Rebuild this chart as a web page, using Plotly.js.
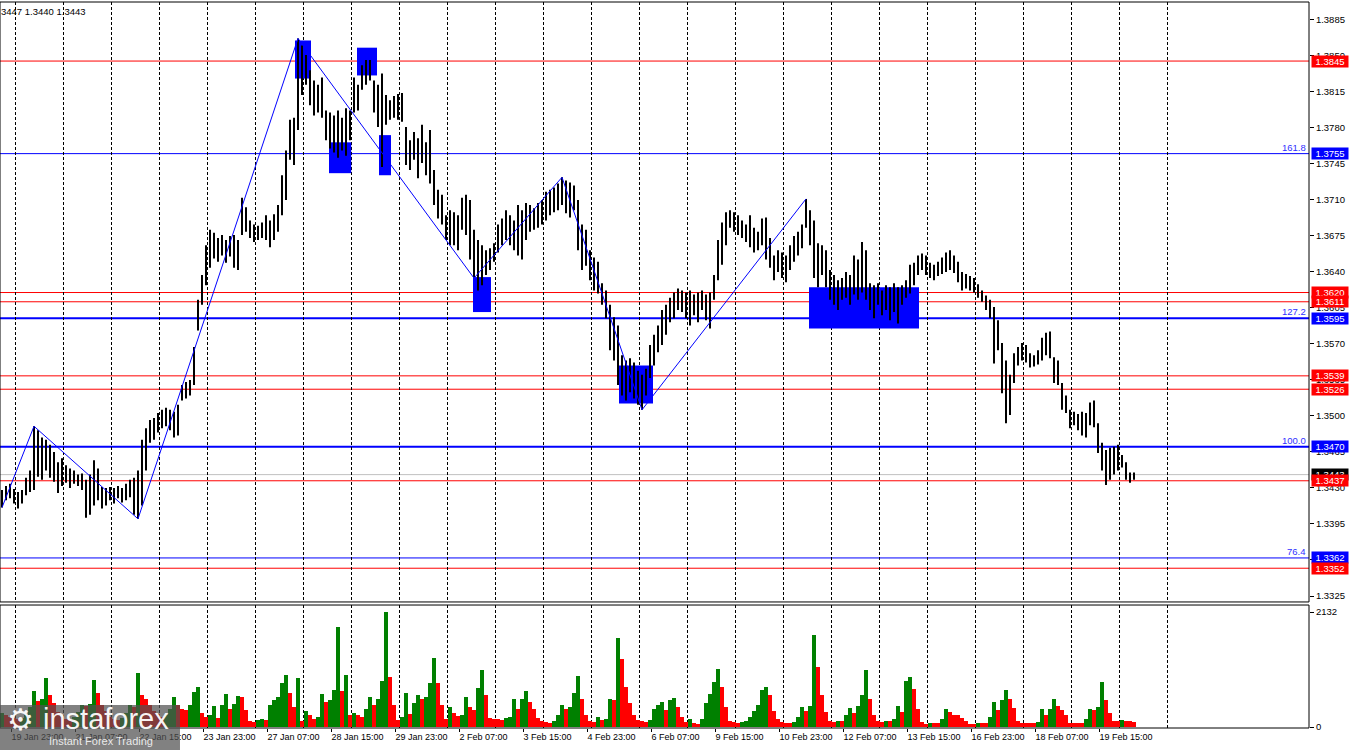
<!DOCTYPE html>
<html><head><meta charset="utf-8">
<script src="https://cdn.plot.ly/plotly-3.0.1.min.js"></script>
<style>html,body{margin:0;padding:0;background:#fff;overflow:hidden}#chart{width:1350px;height:750px}</style>
</head><body><div id="chart"></div>
<script>
// ---- price bars (2-hour columns, index 0 = left edge) ----
const barHigh = [1.3428,1.3432,1.3434,1.3429,1.3426,1.3428,1.3440,1.3447,1.3490,1.3486,
1.3479,1.3477,1.3472,1.3465,1.3455,1.3459,1.3452,1.3449,1.3447,1.3443,
1.3444,1.3438,1.3443,1.3457,1.3449,1.3431,1.3430,1.3431,1.3430,1.3432,
1.3430,1.3434,1.3438,1.3440,1.3447,1.3477,1.3488,1.3496,1.3498,1.3503,
1.3506,1.3508,1.3506,1.3504,1.3511,1.3530,1.3533,1.3535,1.3567,1.3613,
1.3637,1.3666,1.3681,1.3678,1.3673,1.3676,1.3671,1.3675,1.3676,1.3671,
1.3712,1.3703,1.3690,1.3686,1.3685,1.3688,1.3695,1.3690,1.3696,1.3705,
1.3734,1.3758,1.3788,1.3790,1.3867,1.3860,1.3851,1.3836,1.3826,1.3822,
1.3829,1.3797,1.3795,1.3792,1.3797,1.3790,1.3799,1.3797,1.3829,1.3822,
1.3841,1.3846,1.3846,1.3826,1.3822,1.3833,1.3812,1.3807,1.3811,1.3813,
1.3814,1.3781,1.3768,1.3776,1.3770,1.3783,1.3766,1.3778,1.3739,1.3720,
1.3715,1.3695,1.3700,1.3698,1.3695,1.3712,1.3715,1.3710,1.3681,1.3671,
1.3666,1.3661,1.3663,1.3668,1.3686,1.3692,1.3700,1.3695,1.3690,1.3705,
1.3700,1.3707,1.3705,1.3702,1.3707,1.3710,1.3718,1.3720,1.3722,1.3726,
1.3732,1.3729,1.3727,1.3724,1.3710,1.3686,1.3681,1.3661,1.3654,1.3650,
1.3629,1.3622,1.3608,1.3596,1.3588,1.3559,1.3554,1.3556,1.3552,1.3544,
1.3540,1.3546,1.3569,1.3579,1.3588,1.3603,1.3608,1.3615,1.3620,1.3624,
1.3622,1.3620,1.3622,1.3618,1.3620,1.3622,1.3618,1.3620,1.3637,1.3671,
1.3688,1.3698,1.3700,1.3698,1.3695,1.3690,1.3686,1.3695,1.3683,1.3679,
1.3692,1.3693,1.3673,1.3656,1.3661,1.3659,1.3656,1.3666,1.3675,1.3679,
1.3686,1.3711,1.3700,1.3690,1.3668,1.3666,1.3661,1.3642,1.3637,1.3632,
1.3634,1.3640,1.3637,1.3656,1.3652,1.3669,1.3661,1.3629,1.3627,1.3629,
1.3622,1.3627,1.3625,1.3629,1.3625,1.3627,1.3632,1.3647,1.3649,1.3656,
1.3658,1.3656,1.3649,1.3647,1.3650,1.3654,1.3659,1.3661,1.3656,1.3650,
1.3640,1.3638,1.3636,1.3634,1.3628,1.3622,1.3617,1.3613,1.3606,1.3593,
1.3571,1.3554,1.3540,1.3561,1.3567,1.3571,1.3569,1.3561,1.3559,1.3564,
1.3576,1.3581,1.3582,1.3557,1.3554,1.3532,1.3520,1.3506,1.3504,1.3502,
1.3504,1.3503,1.3513,1.3515,1.3493,1.3474,1.3467,1.3469,1.3470,1.3472,
1.3462,1.3455,1.3445,1.3445];
const barLow = [1.3411,1.3418,1.3420,1.3415,1.3410,1.3415,1.3423,1.3426,1.3428,1.3441,
1.3438,1.3447,1.3440,1.3436,1.3425,1.3432,1.3435,1.3430,1.3434,1.3432,
1.3428,1.3401,1.3404,1.3413,1.3418,1.3410,1.3413,1.3418,1.3415,1.3420,
1.3416,1.3418,1.3421,1.3404,1.3400,1.3413,1.3447,1.3474,1.3477,1.3484,
1.3488,1.3490,1.3486,1.3479,1.3481,1.3515,1.3517,1.3520,1.3530,1.3583,
1.3608,1.3627,1.3644,1.3653,1.3650,1.3656,1.3649,1.3655,1.3644,1.3642,
1.3676,1.3679,1.3673,1.3669,1.3671,1.3673,1.3671,1.3664,1.3671,1.3679,
1.3695,1.3710,1.3749,1.3744,1.3778,1.3812,1.3822,1.3802,1.3792,1.3795,
1.3790,1.3768,1.3760,1.3756,1.3751,1.3758,1.3753,1.3768,1.3795,1.3797,
1.3817,1.3822,1.3826,1.3795,1.3781,1.3742,1.3783,1.3788,1.3790,1.3788,
1.3786,1.3744,1.3739,1.3749,1.3731,1.3746,1.3734,1.3726,1.3705,1.3692,
1.3686,1.3671,1.3666,1.3666,1.3661,1.3681,1.3676,1.3652,1.3634,1.3622,
1.3627,1.3637,1.3642,1.3650,1.3659,1.3666,1.3671,1.3666,1.3661,1.3656,
1.3652,1.3671,1.3679,1.3681,1.3683,1.3686,1.3690,1.3695,1.3698,1.3700,
1.3705,1.3697,1.3693,1.3700,1.3661,1.3642,1.3646,1.3632,1.3622,1.3619,
1.3608,1.3595,1.3564,1.3554,1.3530,1.3520,1.3515,1.3523,1.3517,1.3511,
1.3506,1.3520,1.3537,1.3549,1.3562,1.3569,1.3579,1.3591,1.3595,1.3603,
1.3601,1.3595,1.3588,1.3598,1.3591,1.3603,1.3593,1.3585,1.3613,1.3632,
1.3647,1.3666,1.3683,1.3679,1.3676,1.3673,1.3669,1.3664,1.3659,1.3661,
1.3666,1.3652,1.3644,1.3632,1.3640,1.3634,1.3630,1.3642,1.3650,1.3656,
1.3663,1.3683,1.3666,1.3634,1.3625,1.3637,1.3625,1.3613,1.3608,1.3603,
1.3613,1.3615,1.3608,1.3618,1.3613,1.3620,1.3613,1.3603,1.3595,1.3608,
1.3598,1.3603,1.3593,1.3601,1.3590,1.3608,1.3615,1.3619,1.3627,1.3637,
1.3642,1.3637,1.3634,1.3632,1.3636,1.3638,1.3640,1.3642,1.3639,1.3630,
1.3622,1.3624,1.3622,1.3620,1.3615,1.3611,1.3603,1.3595,1.3551,1.3564,
1.3522,1.3493,1.3501,1.3532,1.3549,1.3554,1.3552,1.3547,1.3548,1.3550,
1.3554,1.3559,1.3556,1.3532,1.3530,1.3506,1.3503,1.3488,1.3491,1.3486,
1.3481,1.3479,1.3491,1.3489,1.3464,1.3447,1.3433,1.3438,1.3443,1.3447,
1.3450,1.3438,1.3435,1.3438];
const volume = [259,222,185,167,148,167,222,370,666,481,
518,907,592,444,278,185,148,130,185,278,
407,389,426,870,629,407,296,185,148,130,
167,259,407,370,999,592,518,407,296,241,
185,222,333,555,407,333,315,407,648,740,
259,185,222,389,167,407,611,333,426,574,
555,315,111,93,130,148,130,407,500,555,
814,962,629,370,907,111,296,222,148,185,
611,463,500,685,1850,666,962,222,259,222,
185,333,555,407,518,851,2132,925,407,130,
185,629,241,444,592,518,555,814,1277,814,
407,148,370,259,204,222,555,370,315,722,
1055,592,167,148,148,130,167,185,518,333,
518,666,463,333,167,111,93,74,111,222,
407,333,370,629,944,518,222,111,93,185,
130,148,518,500,1647,1258,740,444,222,130,
111,93,130,333,407,463,315,500,537,370,
185,93,148,74,56,148,444,611,833,1073,
740,370,111,93,74,93,111,185,296,407,
685,740,592,296,148,93,74,74,93,185,
370,296,389,1702,1110,592,278,111,93,111,
111,222,352,259,389,592,1055,518,222,111,
93,111,111,148,389,278,851,925,703,333,
93,56,74,74,74,148,333,278,222,222,
167,111,56,56,74,74,74,185,463,315,
500,685,518,352,111,74,74,74,74,93,
333,222,333,518,389,315,222,74,74,74,
74,148,333,315,370,833,500,259,111,111,
130,111,111,93];

// ---- time axis labels (every 16 columns = 32 hours) ----
const timeLabels = ['19 Jan 23:00','21 Jan 07:00','22 Jan 15:00','23 Jan 23:00','27 Jan 07:00','28 Jan 15:00',
'29 Jan 23:00','2 Feb 07:00','3 Feb 15:00','4 Feb 23:00','6 Feb 07:00','9 Feb 15:00','10 Feb 23:00',
'12 Feb 07:00','13 Feb 15:00','16 Feb 23:00','18 Feb 07:00','19 Feb 15:00'];
const firstLabelIndex = 2.25;
const labelStep = 16;

// ---- zigzag pivots ----
const zigzagIndex = [0, 8, 34, 74, 118, 140, 160, 201];
const zigzagPrice = [1.3411, 1.3490, 1.3400, 1.3867, 1.3634, 1.3732, 1.3506, 1.3711];

// ---- blue zones ----
const zoneStart = [73.25, 81.75, 88.75, 94.25, 117.75, 154.25, 201.75];
const zoneEnd   = [77.25, 87.3, 93.75, 97.25, 122.25, 162.75, 229.25];
const zoneTop   = [1.3865, 1.3766, 1.3858, 1.3773, 1.3635, 1.3549, 1.3625];
const zoneBottom= [1.3828, 1.3736, 1.3831, 1.3734, 1.3601, 1.3512, 1.3585];

// ---- levels ----
const redLevels = [1.3845, 1.3620, 1.3611, 1.3539, 1.3526, 1.3437, 1.3352];
const fibLevels = [1.3755, 1.3595, 1.3470, 1.3362];
const fibNames  = ['161.8', '127.2', '100.0', '76.4'];
const lastPrice = 1.3443;
const infoText = '3447 1.3440 1.3443';
const priceTickStart = 1.3325, priceTickStep = 0.0035, priceTickEnd = 1.3885;
const volumeMax = 2132;

// ================= drawing =================
const FONT = 'Liberation Sans, Arial, sans-serif';
const FS = 9.5;
const FSX = 9;
const xs = [], ys = [];
barHigh.forEach((h, i) => { xs.push(i, i, null); ys.push(barLow[i], h, null); });

const volIdx = volume.map((v, i) => i);
const volColors = volume.map((v, i) => (i === 0 || v > volume[i - 1]) ? '#008000' : '#ff0000');

const traces = [
  {type: 'scatter', mode: 'lines', x: xs, y: ys, xaxis: 'x', yaxis: 'y',
   line: {color: '#000', width: 2}, hoverinfo: 'skip'},
  {type: 'scatter', mode: 'lines', x: zigzagIndex, y: zigzagPrice, xaxis: 'x', yaxis: 'y',
   line: {color: '#0000ff', width: 1}, hoverinfo: 'skip'},
  {type: 'bar', x: volIdx, y: volume, xaxis: 'x', yaxis: 'y2', width: 0.9,
   marker: {color: volColors, line: {width: 0}}, hoverinfo: 'skip'}
];

const priceTicks = [];
for (let p = priceTickStart; p <= priceTickEnd + 1e-9; p += priceTickStep) priceTicks.push(+p.toFixed(4));
const tickIdx = timeLabels.map((t, k) => firstLabelIndex + labelStep * k);
const gridIdx = [];
for (let k = 0; k < 25; k++) gridIdx.push(3.33 + 12 * k);

const shapes = [];
zoneStart.forEach((s, i) => shapes.push({type: 'rect', xref: 'x', yref: 'y', x0: s, x1: zoneEnd[i],
  y0: zoneBottom[i], y1: zoneTop[i], fillcolor: '#0000ff', line: {width: 0}, layer: 'between'}));
redLevels.forEach(p => shapes.push({type: 'line', xref: 'paper', yref: 'y', x0: 0, x1: 1, y0: p, y1: p,
  line: {color: '#ff0000', width: 1}, layer: 'between'}));
fibLevels.forEach((p, i) => shapes.push({type: 'line', xref: 'paper', yref: 'y', x0: 0, x1: 1, y0: p, y1: p,
  line: {color: '#0000ff', width: (fibNames[i] === '127.2' || fibNames[i] === '100.0') ? 2 : 1}, layer: 'between'}));
shapes.push({type: 'line', xref: 'paper', yref: 'y', x0: 0, x1: 1, y0: lastPrice, y1: lastPrice,
  line: {color: '#c0c0c0', width: 1}, layer: 'between'});
shapes.push({type: 'rect', xref: 'paper', yref: 'y domain', x0: 0, x1: 1, y0: 0, y1: 1,
  line: {color: '#000', width: 1}, fillcolor: 'rgba(0,0,0,0)', layer: 'above'});
shapes.push({type: 'rect', xref: 'paper', yref: 'y2 domain', x0: 0, x1: 1, y0: 0, y1: 1,
  line: {color: '#000', width: 1}, fillcolor: 'rgba(0,0,0,0)', layer: 'above'});
// watermark box
shapes.push({type: 'rect', xref: 'paper', yref: 'paper', x0: 0, x1: 0.1375, y0: -0.031, y1: 0.0317,
  fillcolor: 'rgba(80,80,80,0.72)', line: {width: 0}, layer: 'above'});

const annotations = [];
const boxLabel = (p, bg) => ({xref: 'paper', x: 1, xanchor: 'left', xshift: 2, yref: 'y', y: p, yanchor: 'middle',
  text: p.toFixed(4), showarrow: false, bgcolor: bg, borderpad: 0, width: 36, height: 11,
  font: {family: FONT, size: FS, color: '#fff'}});
annotations.push(boxLabel(lastPrice, '#000'));
fibLevels.forEach(p => annotations.push(boxLabel(p, '#0000ff')));
redLevels.forEach(p => annotations.push(boxLabel(p, '#ff0000')));
fibLevels.forEach((p, i) => annotations.push({xref: 'paper', x: 1, xanchor: 'right', xshift: -2, yref: 'y', y: p,
  yanchor: 'bottom', text: fibNames[i], showarrow: false, borderpad: 0,
  font: {family: FONT, size: FS, color: '#3030ff'}}));
annotations.push({xref: 'paper', x: 0, xanchor: 'left', yref: 'paper', y: 1, yanchor: 'top', yshift: -3,
  text: infoText, showarrow: false, borderpad: 0, font: {family: FONT, size: FS, color: '#000'}});
annotations.push({xref: 'paper', x: 0.004, xanchor: 'left', yref: 'paper', y: 0.012, yanchor: 'middle',
  text: '\u2699', showarrow: false, font: {family: 'DejaVu Sans', size: 30, color: 'rgba(255,255,255,0.95)'}});
annotations.push({xref: 'paper', x: 0.031, xanchor: 'left', yref: 'paper', y: 0.012, yanchor: 'middle',
  text: 'instaforex', showarrow: false, font: {family: 'Liberation Sans, Arial, sans-serif', size: 29, color: 'rgba(255,255,255,0.95)'}});
annotations.push({xref: 'paper', x: 0.036, xanchor: 'left', yref: 'paper', y: -0.018, yanchor: 'middle',
  text: 'Instant Forex Trading', showarrow: false, font: {family: 'Liberation Sans, Arial, sans-serif', size: 11, color: 'rgba(255,255,255,0.85)'}});

const layout = {
  width: 1350, height: 750,
  margin: {l: 0, r: 41, t: 2, b: 22, pad: 0},
  paper_bgcolor: '#fff', plot_bgcolor: '#fff', showlegend: false, hovermode: false,
  bargap: 0,
  xaxis: {domain: [0, 1], anchor: 'y2', range: [-0.5, 326.75], showgrid: false, zeroline: false,
    showline: false, tickmode: 'array', tickvals: tickIdx, ticktext: timeLabels, ticks: 'outside', ticklen: 3,
    tickangle: 0, automargin: false,
    tickcolor: '#000', ticklabelposition: 'outside right', tickfont: {family: FONT, size: FSX, color: '#000'},
    minor: {tickmode: 'array', tickvals: gridIdx, showgrid: true, gridcolor: '#000', gridwidth: 1, griddash: '3px,2px', ticks: ''}},
  yaxis: {domain: [0.1736, 1], anchor: 'x', side: 'right', range: [1.33192, 1.39024], showgrid: false, zeroline: false,
    tickmode: 'array', tickvals: priceTicks, ticktext: priceTicks.map(p => p.toFixed(4)), ticks: 'outside', ticklen: 4,
    tickcolor: '#000', showline: false, automargin: false, tickfont: {family: FONT, size: FS, color: '#000'}},
  yaxis2: {domain: [0, 0.1694], anchor: 'x', side: 'right', range: [-18.5, 2262], showgrid: false, zeroline: false,
    tickmode: 'array', tickvals: [0, volumeMax], ticktext: ['0', String(volumeMax)], ticks: 'outside', ticklen: 4,
    tickcolor: '#000', showline: false, automargin: false, tickfont: {family: FONT, size: FS, color: '#000'}},
  shapes: shapes, annotations: annotations
};
Plotly.newPlot('chart', traces, layout, {staticPlot: true, displayModeBar: false});
</script>
</body></html>
